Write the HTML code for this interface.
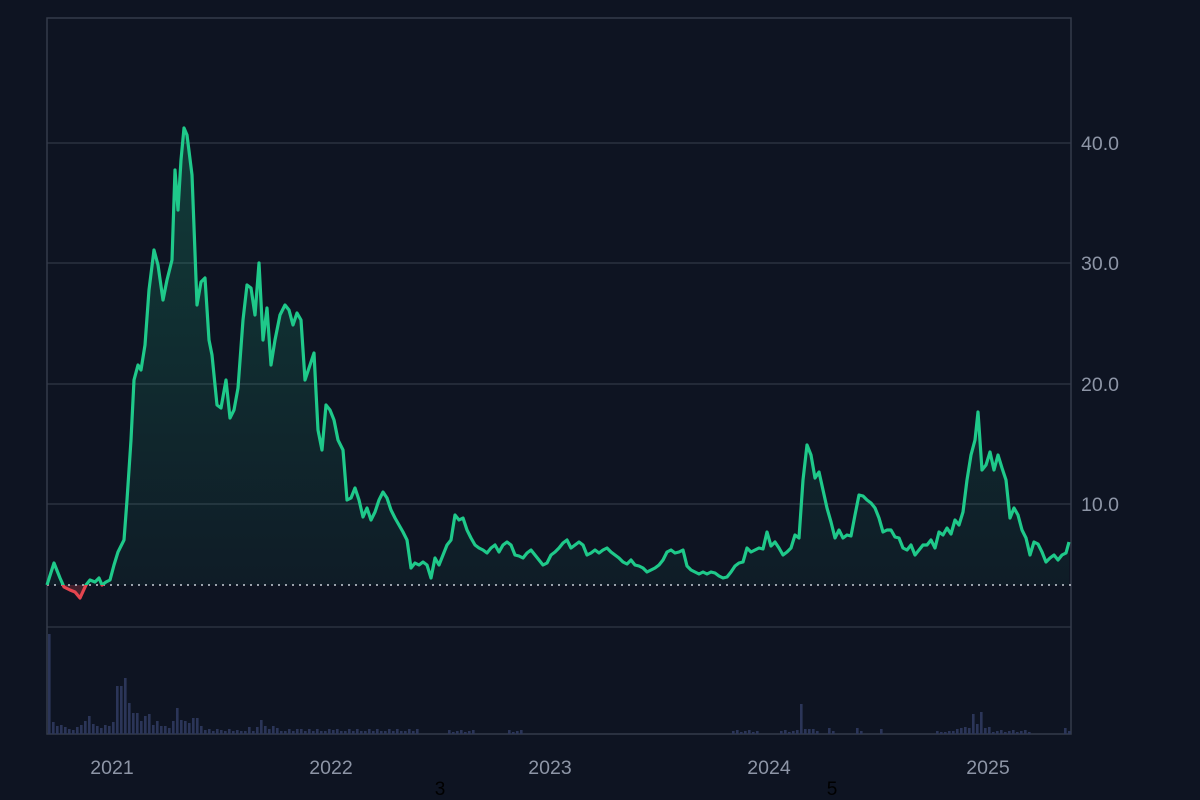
<!DOCTYPE html>
<html><head><meta charset="utf-8"><style>
html,body{margin:0;padding:0;background:#0e1422;}
svg{display:block}
text{font-family:"Liberation Sans",sans-serif;}
</style></head><body>
<svg id="s" width="1200" height="800" viewBox="0 0 1200 800">
<defs>
<linearGradient id="g" x1="0" y1="0" x2="0" y2="1"><stop offset="0" stop-color="#1fc98a" stop-opacity="0.22"/><stop offset="1" stop-color="#1fc98a" stop-opacity="0.04"/></linearGradient>
<clipPath id="above"><rect x="0" y="0" width="1200" height="585"/></clipPath>
<clipPath id="below"><rect x="0" y="585" width="1200" height="100"/></clipPath>
</defs>
<rect width="1200" height="800" fill="#0e1422"/>
<g stroke="#2a3140" stroke-width="1.5">
<line x1="47" y1="143" x2="1071" y2="143"/>
<line x1="47" y1="263" x2="1071" y2="263"/>
<line x1="47" y1="384" x2="1071" y2="384"/>
<line x1="47" y1="504" x2="1071" y2="504"/>
<line x1="47" y1="627" x2="1071" y2="627"/>
</g>
<rect x="47" y="18" width="1024" height="716" fill="none" stroke="#343b4a" stroke-width="1.5"/>
<g fill="#8d95a6" font-size="19.5">
<text x="1081" y="150">40.0</text><text x="1081" y="270">30.0</text><text x="1081" y="391">20.0</text><text x="1081" y="511">10.0</text>
<text x="112" y="774" text-anchor="middle">2021</text><text x="331" y="774" text-anchor="middle">2022</text><text x="550" y="774" text-anchor="middle">2023</text><text x="769" y="774" text-anchor="middle">2024</text><text x="988" y="774" text-anchor="middle">2025</text>
</g>
<text x="440" y="795" font-size="19" fill="#000" text-anchor="middle">3</text>
<text x="832" y="795" font-size="19" fill="#000" text-anchor="middle">5</text>
<g id="vol" fill="#2b3558"></g>
<path id="fillA" fill="url(#g)" clip-path="url(#above)"/>
<path id="fillB" fill="#e5454f" fill-opacity="0.25" clip-path="url(#below)"/>
<line x1="47" y1="585" x2="1071" y2="585" stroke="#c9ced8" stroke-width="1.5" stroke-dasharray="2,5"/>
<polyline id="lA" fill="none" stroke="#1fc98a" stroke-width="3.2" stroke-linejoin="round" clip-path="url(#above)"/>
<polyline id="lB" fill="none" stroke="#e5454f" stroke-width="3.2" stroke-linejoin="round" clip-path="url(#below)"/>
</svg>
<script>
var p="47,585 54,563 60,578 64,587 70,590 75,592 80,598 86,585 90,580 95,582 99,578 102,585 106,582 110,580 114,565 118,552 124,540 127,500 131,440 134,380 138,365 141,370 145,345 149,290 154,250 158,265 163,300 167,280 172,260 175,170 178,210 181,160 184,128 187,135 192,175 197,305 201,282 205,278 209,340 212,355 217,405 221,408 226,380 230,418 234,410 238,388 243,320 247,285 251,288 255,315 259,263 263,340 267,308 271,365 275,340 280,315 285,305 289,310 293,325 297,313 301,320 305,380 310,365 314,353 318,430 322,450 326,405 330,410 334,420 338,440 343,450 347,500 351,498 355,488 359,500 363,517 367,508 371,520 375,512 379,500 383,492 387,498 391,510 395,518 399,525 403,532 407,540 411,568 415,563 419,565 423,562 427,565 431,578 435,558 439,565 443,555 447,545 451,540 455,515 459,520 463,518 467,530 471,538 475,545 479,548 483,550 487,553 491,548 495,545 499,552 503,545 507,542 511,545 515,555 519,556 523,558 527,553 531,550 535,555 539,560 543,565 547,563 551,555 555,552 559,548 563,543 567,540 571,548 575,545 579,542 583,545 587,555 591,553 595,550 599,553 603,550 607,548 611,552 615,555 619,558 623,562 627,564 631,560 635,565 639,566 643,568 647,572 651,570 655,568 659,565 663,560 667,552 671,550 675,553 679,552 683,550 687,566 691,570 695,572 699,574 703,572 707,574 711,572 715,573 719,576 723,578 727,577 731,572 735,566 739,563 743,562 747,548 751,552 755,550 759,548 763,549 767,532 771,546 775,542 779,548 783,555 787,552 791,548 795,535 799,538 803,480 807,445 811,455 815,478 819,472 823,490 827,508 831,522 835,538 839,530 843,538 847,535 851,536 855,515 859,495 863,496 867,500 871,503 875,508 879,518 883,532 887,530 891,530 895,537 899,538 903,548 907,550 911,545 915,555 919,550 923,545 927,545 931,540 935,548 939,532 943,535 947,528 951,534 955,520 959,525 963,512 967,480 971,455 975,440 978,412 982,470 986,465 990,452 994,470 998,455 1002,468 1006,480 1010,518 1014,508 1018,515 1022,530 1026,538 1030,555 1034,542 1038,544 1042,552 1046,562 1050,558 1054,555 1058,560 1062,555 1066,553 1069,542";
document.getElementById('lA').setAttribute('points',p);
document.getElementById('lB').setAttribute('points',p);
var d="M47,585 L"+p.replace(/ /g," L")+" L1069,585 Z";
document.getElementById('fillA').setAttribute('d',d);
document.getElementById('fillB').setAttribute('d',d);
var hs={49:100,53:12,57:8,61:9,65:7,69:5,73:4,77:7,81:9,85:13,89:18,93:10,97:8,101:6,105:9,109:8,113:12,117:48,121:48,125:56,129:31,133:21,137:21,141:13,145:18,149:20,153:9,157:13,161:8,165:8,169:6,173:13,177:26,181:14,185:13,189:11,193:16,197:16,201:8,205:4,221:4,237:4,249:7,257:7,261:14,265:8,273:8,277:6,301:5,333:4,801:30,805:5,809:5,813:5,817:3,829:6,833:3,857:6,861:3,881:5,941:2,953:3,957:5,961:6,965:7,969:6,973:20,977:10,981:22,985:6,989:7,1065:6,1069:3};
var g=document.getElementById('vol'),h='';
for(var x=49;x<1070;x+=4){var v=hs[x];
 if(v===undefined){ if(x<420) v=3+((x*7)%5>2?2:0); else if((x>445&&x<475)||(x>505&&x<525)||(x>730&&x<760)||(x>780&&x<800)||(x>935&&x<1030)) v=2+(x%3); else v=0;}
 if(v>0) h+='<rect x="'+(x-1)+'" y="'+(734-v)+'" width="2.6" height="'+v+'"/>';}
g.innerHTML=h;
</script>
</body></html>
